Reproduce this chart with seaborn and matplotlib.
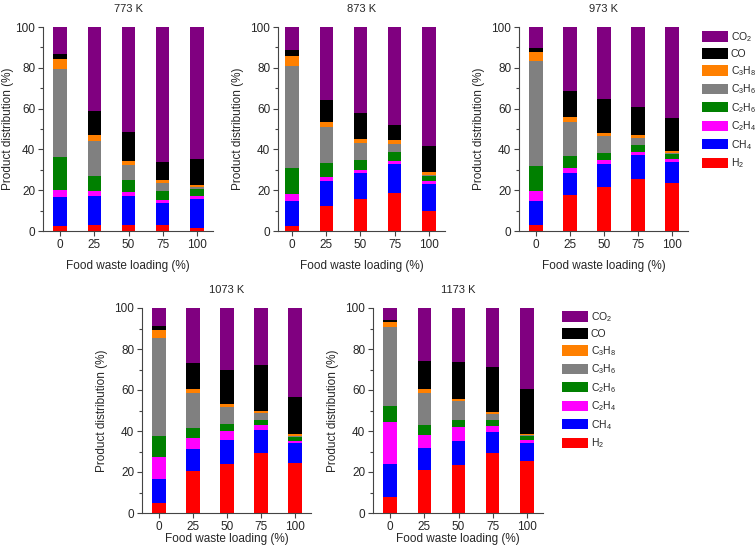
import numpy as np
import pandas as pd
import matplotlib.pyplot as plt
import matplotlib.ticker as mticker
from matplotlib.patches import Patch
import seaborn as sns

# ── Data (product distribution, %) ───────────────────────────────────────────
TEMPS = ["773 K", "873 K", "973 K", "1073 K", "1173 K"]
LOADINGS = ["0", "25", "50", "75", "100"]

# rows: 773, 873, 973, 1073, 1173 K ; columns: food waste loading 0..100 %
H2 = [[2.6, 2.9, 2.9, 2.9, 1.6],
      [2.3, 12.4, 15.5, 18.6, 9.9],
      [3.1, 17.8, 21.7, 25.6, 23.6],
      [4.9, 20.3, 24.1, 29.1, 24.2],
      [7.8, 21.1, 23.3, 29.3, 25.5]]
CH4 = [[14.0, 14.5, 14.5, 10.9, 14.2],
       [12.5, 12.2, 13.0, 14.1, 13.2],
       [11.6, 10.7, 10.9, 11.9, 10.3],
       [11.5, 11.1, 11.3, 11.2, 9.9],
       [16.3, 10.8, 12.0, 10.4, 8.8]]
C2H4 = [[3.6, 2.0, 1.7, 1.3, 1.3],
        [3.4, 1.8, 1.3, 1.7, 1.2],
        [5.0, 2.6, 2.1, 1.4, 1.3],
        [10.8, 5.0, 4.4, 2.5, 0.9],
        [20.3, 6.1, 6.7, 2.7, 1.1]]
C2H6 = [[16.3, 7.8, 5.8, 4.3, 3.6],
        [12.8, 6.7, 5.1, 4.4, 2.9],
        [12.1, 5.5, 3.7, 3.1, 2.4],
        [10.2, 5.1, 3.5, 2.7, 2.1],
        [7.8, 4.8, 3.2, 2.8, 2.0]]
C3H6 = [[42.8, 16.9, 7.5, 4.1, 0.8],
        [50.1, 17.9, 8.4, 3.9, 0.3],
        [51.6, 17.0, 8.0, 3.8, 0.8],
        [48.1, 16.9, 8.4, 3.3, 0.5],
        [38.4, 15.6, 9.3, 3.3, 0.5]]
C3H8 = [[4.9, 2.8, 2.1, 1.6, 1.1],
        [4.9, 2.4, 2.0, 1.8, 1.2],
        [4.5, 2.1, 1.8, 1.3, 1.0],
        [3.6, 1.9, 1.3, 1.1, 0.8],
        [2.4, 2.1, 1.1, 0.9, 0.8]]
CO = [[2.6, 11.9, 14.0, 8.8, 12.9],
      [2.6, 10.8, 12.4, 7.5, 13.0],
      [2.0, 12.7, 16.5, 13.6, 16.1],
      [2.3, 13.0, 16.9, 22.1, 18.0],
      [1.3, 13.6, 17.9, 22.0, 21.8]]
CO2 = [[13.2, 41.2, 51.5, 66.1, 64.5],
       [11.4, 35.8, 42.3, 48.0, 58.3],
       [10.1, 31.6, 35.3, 39.3, 44.5],
       [8.6, 26.7, 30.1, 28.0, 43.6],
       [5.7, 25.9, 26.5, 28.6, 39.5]]

# stacking order (bottom -> top)
SPECIES = [
    ("H2", H2, "H$_2$", "#ff0000"),
    ("CH4", CH4, "CH$_4$", "#0000ff"),
    ("C2H4", C2H4, "C$_2$H$_4$", "#ff00ff"),
    ("C2H6", C2H6, "C$_2$H$_6$", "#008000"),
    ("C3H6", C3H6, "C$_3$H$_6$", "#808080"),
    ("C3H8", C3H8, "C$_3$H$_8$", "#ff8000"),
    ("CO", CO, "CO", "#000000"),
    ("CO2", CO2, "CO$_2$", "#800080"),
]

# ── Style ────────────────────────────────────────────────────────────────────
sns.set_style("ticks")
plt.rcParams["font.family"] = ["Liberation Sans", "DejaVu Sans"]
plt.rcParams["mathtext.fontset"] = "custom"
plt.rcParams["mathtext.rm"] = "Liberation Sans"
plt.rcParams["mathtext.it"] = "Liberation Sans"
plt.rcParams["mathtext.default"] = "regular"

W, H = 756, 553
fig = plt.figure(figsize=(W / 100, H / 100), dpi=100)

# axes boxes in pixels: left, right, top, bottom
BOXES = [(43, 213, 27, 231), (278, 445, 27, 231), (519, 688, 27, 231),
         (142, 311, 308, 513), (373, 543, 308, 513)]
YLABEL_X = [14, 244, 485, 108, 339]   # right edge of rotated y-label, px
XLABEL_PAD = [7, 7, 7, 0.5, 0.5]
AXIS_COL = "#444444"

for i, (temp, (l, r, t, b)) in enumerate(zip(TEMPS, BOXES)):
    ax = fig.add_axes([l / W, 1 - b / H, (r - l) / W, (b - t) / H])
    df = pd.DataFrame({"loading": LOADINGS})
    cum = np.zeros(len(LOADINGS))
    for key, vals, _, _ in SPECIES:
        cum = cum + np.array(vals[i])
        df[key] = cum
    # draw cumulative totals from the top down so lower species overlay
    for key, _, _, color in reversed(SPECIES):
        sns.barplot(data=df, x="loading", y=key, order=LOADINGS, color=color,
                    saturation=1, width=0.39, linewidth=0, errorbar=None, ax=ax)
    left_lim = -0.5 if i != 1 else -0.41
    ax.set_xlim(left_lim, 4.47)
    ax.set_ylim(0, 100)
    ax.yaxis.set_major_locator(mticker.MultipleLocator(20))
    ax.yaxis.set_minor_locator(mticker.MultipleLocator(10))
    ax.tick_params(axis="both", which="major", labelsize=8.5, length=3.6,
                   width=0.8, color=AXIS_COL, pad=2)
    ax.tick_params(axis="y", which="minor", length=2.2, width=0.8, color=AXIS_COL)
    sns.despine(ax=ax)
    for s in ("left", "bottom"):
        ax.spines[s].set_color(AXIS_COL)
        ax.spines[s].set_linewidth(0.8)
    ax.set_title(temp, fontsize=8, pad=11)
    ax.set_xlabel("Food waste loading (%)", fontsize=8.5, labelpad=XLABEL_PAD[i])
    ax.set_ylabel("Product distribution (%)", fontsize=8.5)
    ax.yaxis.set_label_coords((YLABEL_X[i] - l) / (r - l), 0.5)

handles = [Patch(facecolor=c, edgecolor="none", label=lab)
           for _, _, lab, c in reversed(SPECIES)]
for x0, y0 in [(702, 30), (562, 310)]:
    fig.legend(handles=handles, loc="upper left",
               bbox_to_anchor=(x0 / W, 1 - y0 / H), frameon=False,
               fontsize=7.5, handlelength=2.5, handleheight=1.15,
               handletextpad=0.25, labelspacing=0.45,
               borderpad=0, borderaxespad=0)

fig.savefig("out.png", dpi=100)
